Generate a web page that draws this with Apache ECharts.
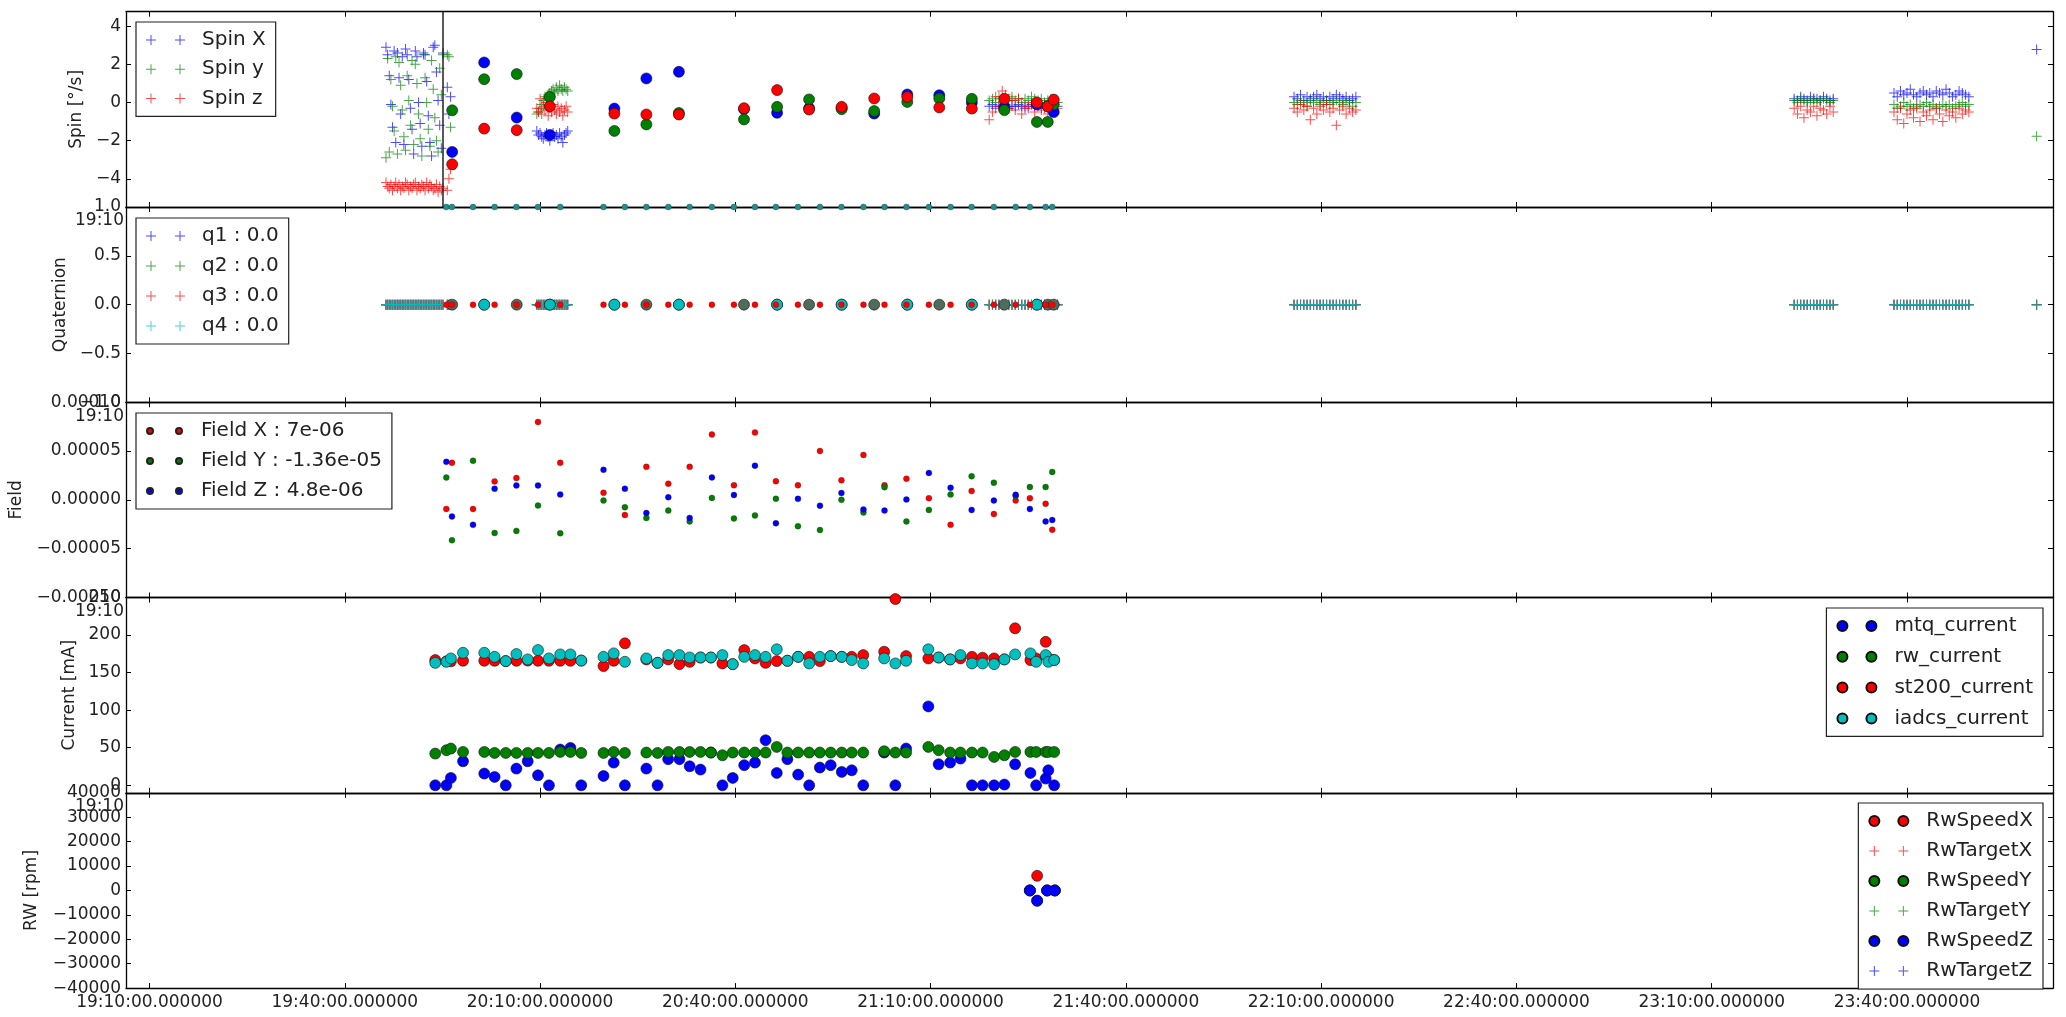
<!DOCTYPE html>
<html><head><meta charset="utf-8">
<script src="https://cdn.jsdelivr.net/npm/echarts@6/dist/echarts.min.js"></script>
<style>html,body{margin:0;padding:0;background:#fff;}#c{width:2066px;height:1017px;}</style>
</head><body><div id="c"></div>
<script>
// ================= DATA =================
const xTickLabels = ["19:10","19:40","20:10","20:40","21:10","21:40","22:10","22:40","23:10","23:40"];
const spinTicks = [-4,-2,0,2,4];
const quatTicks = [-1,-0.5,0,0.5,1];
const fieldTicks = [-0.0001,-0.00005,0,0.00005,0.0001];
const currentTicks = [0,50,100,150,200,250];
const rwTicks = [-40000,-30000,-20000,-10000,0,10000,20000,30000,40000];

// high-rate samples ("+" markers)
const crossTimes = [
 "19:46:20","19:46:35","19:46:50","19:47:05","19:47:20","19:47:35","19:47:50","19:48:05","19:48:20","19:48:35",
 "19:48:50","19:49:05","19:49:20","19:49:35","19:49:50","19:50:05","19:50:20","19:50:35","19:50:50","19:51:05",
 "19:51:20","19:51:35","19:51:50","19:52:05","19:52:20","19:52:35","19:52:50","19:53:05","19:53:20","19:53:35",
 "19:53:50","19:54:05","19:54:20","19:54:35","19:54:50","19:55:05","19:55:45","19:56:00","19:56:15",
 "20:09:30","20:09:45","20:10:00","20:10:15","20:10:30","20:10:45","20:11:00","20:11:15","20:11:30","20:11:45",
 "20:12:00","20:12:15","20:12:30","20:12:45","20:13:00","20:13:15","20:13:30","20:13:45","20:14:00","20:14:15",
 "21:19:00","21:19:30","21:20:00","21:20:30","21:21:00","21:21:30","21:22:00","21:22:30","21:23:00","21:23:30",
 "21:24:00","21:24:30","21:25:00","21:25:30","21:26:00","21:26:30","21:27:00","21:27:30","21:28:00","21:28:30",
 "21:29:00","21:29:30",
 "22:05:50","22:06:20","22:06:50","22:07:20","22:07:50","22:08:20","22:08:50","22:09:20","22:09:50","22:10:20",
 "22:10:50","22:11:20","22:11:50","22:12:20","22:12:50","22:13:20","22:13:50","22:14:20","22:14:50","22:15:20",
 "23:22:40","23:23:10","23:23:40","23:24:10","23:24:40","23:25:10","23:25:40","23:26:10","23:26:40","23:27:10",
 "23:27:40","23:28:10","23:28:40",
 "23:38:00","23:38:30","23:39:00","23:39:30","23:40:00","23:40:30","23:41:00","23:41:30","23:42:00","23:42:30",
 "23:43:00","23:43:30","23:44:00","23:44:30","23:45:00","23:45:30","23:46:00","23:46:30","23:47:00","23:47:30",
 "23:48:00","23:48:30","23:49:00","23:49:30",
 "23:59:55"
];
const spinX = [
 2.9,2.5,1.4,-0.1,-1.3,2.7,-2.1,2.6,1.3,-0.6,2.4,-2.2,2.8,2.5,1.2,-0.3,-1.4,-2.7,2.7,2.4,
 0.0,-1.1,-2.3,2.6,2.5,1.1,-0.7,-2.1,-2.8,2.9,3.0,1.6,0.1,-1.2,-2.4,2.6,0.8,-0.6,0.3,
 -1.5,-1.7,-1.6,-1.8,-1.9,-1.7,-1.6,-1.8,-2.0,-1.7,-1.6,-1.8,-1.7,-1.9,-1.6,-1.8,-2.1,-1.7,-1.6,-1.5,
 -0.2,-0.1,-0.3,-0.2,-0.2,-0.1,-0.3,-0.2,-0.2,-0.1,-0.2,-0.3,-0.2,-0.1,-0.2,-0.2,-0.3,-0.1,-0.2,-0.2,-0.1,-0.2,
 0.3,0.2,0.4,0.1,0.3,0.2,0.3,0.4,0.2,0.3,0.1,0.3,0.2,0.4,0.3,0.2,0.3,0.1,0.2,0.3,
 0.2,0.1,0.3,0.2,0.1,0.3,0.2,0.2,0.1,0.3,0.2,0.1,0.2,
 0.5,0.3,0.6,0.4,0.5,0.7,0.4,0.3,0.5,0.6,0.4,0.5,0.3,0.6,0.5,0.4,0.7,0.5,0.3,0.4,0.6,0.5,0.4,0.3,
 2.78
];
const spinY = [
 -2.9,2.3,-2.6,1.2,-0.2,-1.5,2.4,-2.7,2.1,0.9,-0.4,-1.8,-2.5,1.4,0.1,-1.2,2.2,-2.2,2.0,1.0,
 -0.6,-1.9,-2.8,2.5,1.3,0.0,-1.4,-2.3,2.2,0.7,-0.8,-2.0,-2.6,1.8,0.4,2.5,2.5,2.4,-1.3,
 -0.6,-0.5,-0.3,-0.1,0.1,0.3,0.2,0.4,0.5,0.6,0.7,0.5,0.8,0.6,0.9,0.7,0.6,0.8,0.7,0.6,
 0.1,0.2,0.0,0.3,0.2,0.1,0.2,0.3,0.1,0.2,0.0,0.2,0.1,0.3,0.2,0.1,0.2,0.0,0.1,0.2,0.1,0.0,
 0.0,-0.1,0.1,0.0,-0.2,0.1,0.0,0.1,-0.1,0.0,0.1,-0.1,0.0,0.1,0.0,-0.1,0.1,0.0,-0.2,0.0,
 0.1,0.0,0.2,0.1,0.0,0.1,0.2,0.0,0.1,0.2,0.1,0.0,0.1,
 -0.1,-0.3,-0.2,0.0,-0.2,-0.1,-0.3,-0.2,-0.1,-0.2,0.0,-0.2,-0.1,-0.3,-0.2,-0.1,-0.2,-0.1,-0.3,-0.2,-0.1,0.0,-0.2,-0.1,
 -1.77
];
const spinZ = [
 -4.2,-4.4,-4.5,-4.3,-4.6,-4.4,-4.2,-4.5,-4.3,-4.6,-4.4,-4.5,-4.2,-4.3,-4.6,-4.4,-4.5,-4.3,-4.2,-4.6,
 -4.4,-4.5,-4.3,-4.4,-4.6,-4.2,-4.5,-4.3,-4.4,-4.6,-4.5,-4.3,-4.7,-4.4,-4.6,-4.5,-4.6,-4.0,-3.5,
 -0.3,-0.5,0.2,-0.6,-0.2,-0.4,0.0,-0.7,-0.3,-0.5,-0.1,-0.4,-0.6,-0.2,-0.5,-0.3,-0.7,-0.4,-0.2,-0.5,
 -0.9,-0.5,0.3,-0.2,0.6,0.4,-0.3,0.1,-0.4,0.2,-0.6,-0.2,-0.3,0.0,-0.5,-0.1,-0.4,-0.3,-0.6,-0.2,-0.4,-0.3,
 -0.3,-0.5,-0.1,-0.4,-0.2,-0.9,-0.3,-0.6,-0.2,-0.4,-0.1,-0.5,-0.3,-1.2,-0.4,-0.2,-0.6,-0.3,-0.5,-0.4,
 -0.3,-0.6,-0.2,-0.8,-0.4,-0.5,-0.2,-0.7,-0.3,-0.4,-0.6,-0.2,-0.5,
 -0.5,-0.9,-0.3,-1.1,-0.6,-0.4,-0.8,-0.3,-1.0,-0.5,-0.7,-0.4,-0.9,-0.3,-0.6,-1.0,-0.4,-0.7,-0.5,-0.8,-0.3,-0.6,-0.4,-0.5,
 null
];
const q1 = [
 0,0,0,0,0,0,0,0,0,0,0,0,0,0,0,0,0,0,0,0, 0,0,0,0,0,0,0,0,0,0,0,0,0,0,0,0,0,0,0,0,
 0,0,0,0,0,0,0,0,0,0,0,0,0,0,0,0,0,0,0,0, 0,0,0,0,0,0,0,0,0,0,0,0,0,0,0,0,0,0,0,0,
 0,0,0,0,0,0,0,0,0,0,0,0,0,0,0,0,0,0,0,0, 0,0,0,0,0,0,0,0,0,0,0,0,0,0,0,0,0,0,0,0,
 0,0,0,0,0,0,0,0,0,0,0,0,0,0,0,0,0,0,0
];
const q2 = [
 0,0,0,0,0,0,0,0,0,0,0,0,0,0,0,0,0,0,0,0, 0,0,0,0,0,0,0,0,0,0,0,0,0,0,0,0,0,0,0,0,
 0,0,0,0,0,0,0,0,0,0,0,0,0,0,0,0,0,0,0,0, 0,0,0,0,0,0,0,0,0,0,0,0,0,0,0,0,0,0,0,0,
 0,0,0,0,0,0,0,0,0,0,0,0,0,0,0,0,0,0,0,0, 0,0,0,0,0,0,0,0,0,0,0,0,0,0,0,0,0,0,0,0,
 0,0,0,0,0,0,0,0,0,0,0,0,0,0,0,0,0,0,0
];
const q3 = [
 0,0,0,0,0,0,0,0,0,0,0,0,0,0,0,0,0,0,0,0, 0,0,0,0,0,0,0,0,0,0,0,0,0,0,0,0,0,0,0,0,
 0,0,0,0,0,0,0,0,0,0,0,0,0,0,0,0,0,0,0,0, 0,0,0,0,0,0,0,0,0,0,0,0,0,0,0,0,0,0,0,0,
 0,0,0,0,0,0,0,0,0,0,0,0,0,0,0,0,0,0,0,0, 0,0,0,0,0,0,0,0,0,0,0,0,0,0,0,0,0,0,0,0,
 0,0,0,0,0,0,0,0,0,0,0,0,0,0,0,0,0,0,0
];
const q4 = [
 0,0,0,0,0,0,0,0,0,0,0,0,0,0,0,0,0,0,0,0, 0,0,0,0,0,0,0,0,0,0,0,0,0,0,0,0,0,0,0,0,
 0,0,0,0,0,0,0,0,0,0,0,0,0,0,0,0,0,0,0,0, 0,0,0,0,0,0,0,0,0,0,0,0,0,0,0,0,0,0,0,0,
 0,0,0,0,0,0,0,0,0,0,0,0,0,0,0,0,0,0,0,0, 0,0,0,0,0,0,0,0,0,0,0,0,0,0,0,0,0,0,0,0,
 0,0,0,0,0,0,0,0,0,0,0,0,0,0,0,0,0,0,0
];
const markerTime = "19:55:05";

// 5-minute samples ("o" markers)
const circleTimes = ["19:56:30","20:01:25","20:06:25","20:11:30","20:21:25","20:26:20","20:31:20","20:41:20","20:46:25","20:51:20",
 "20:56:20","21:01:20","21:06:25","21:11:20","21:16:20","21:21:20","21:26:20","21:28:00","21:28:55"];
const spinXo = [-2.59,2.10,-0.79,-1.70,-0.32,1.26,1.61,-0.35,-0.54,-0.30,-0.28,-0.58,0.42,0.38,0.00,-0.25,-0.10,-0.20,-0.50];
const spinYo = [-0.41,1.22,1.49,0.29,-1.49,-1.15,-0.55,-0.89,-0.23,0.16,-0.35,-0.45,0.03,0.21,0.19,-0.40,-1.02,-1.02,-0.10];
const spinZo = [-3.24,-1.37,-1.45,-0.20,-0.58,-0.63,-0.63,-0.30,0.65,-0.37,-0.23,0.21,0.29,-0.26,-0.32,0.19,0.00,-0.20,0.15];
const qCircle = [0,0,0,0,0,0,0,0,0,0,0,0,0,0,0,0,0,0,0];
const q4CircleTimes = ["20:01:25","20:11:30","20:21:25","20:31:20","20:46:25","20:56:20","21:06:25","21:16:20","21:26:20"];
const q4Circle = [0,0,0,0,0,0,0,0,0];

// ~200 s samples ("." markers)
const dotTimes = ["19:55:36","19:56:28","19:59:42","20:03:01","20:06:22","20:09:41","20:13:06","20:19:45","20:23:02","20:26:20",
 "20:29:42","20:32:59","20:36:24","20:39:47","20:43:01","20:46:14","20:49:37","20:53:00","20:56:18","20:59:41",
 "21:02:55","21:06:17","21:09:44","21:13:04","21:16:18","21:19:43","21:23:04","21:25:15","21:27:40","21:28:41"];
const fieldX = [-0.93e-5,3.79e-5,-0.93e-5,1.89e-5,2.24e-5,7.97e-5,3.79e-5,0.72e-5,-1.55e-5,3.38e-5,
 1.66e-5,3.38e-5,6.7e-5,1.5e-5,6.9e-5,1.9e-5,1.5e-5,5.0e-5,2.0e-5,4.6e-5,
 1.5e-5,2.17e-5,0.17e-5,-2.56e-5,0.9e-5,-1.45e-5,-0.07e-5,0.17e-5,-0.41e-5,-3.07e-5];
const fieldY = [2.28e-5,-4.14e-5,4.0e-5,-3.39e-5,-3.18e-5,-0.59e-5,-3.42e-5,-0.07e-5,-0.76e-5,-1.86e-5,
 -1.1e-5,-2.21e-5,0.2e-5,-1.9e-5,-1.6e-5,0.1e-5,-2.7e-5,-3.1e-5,0.0e-5,-1.3e-5,
 1.3e-5,-2.21e-5,-1.03e-5,0.55e-5,2.41e-5,1.76e-5,0.4e-5,1.31e-5,1.31e-5,2.86e-5];
const fieldZ = [3.89e-5,-1.7e-5,-2.56e-5,1.14e-5,1.48e-5,1.48e-5,0.55e-5,3.07e-5,1.14e-5,-1.35e-5,
 0.27e-5,-1.86e-5,2.3e-5,0.5e-5,3.5e-5,-2.4e-5,0.1e-5,-0.6e-5,0.7e-5,-1.0e-5,
 -1.1e-5,0.03e-5,2.76e-5,1.24e-5,-1.03e-5,-0.07e-5,0.52e-5,-0.93e-5,-2.21e-5,-2.07e-5];
const qDot = [0,0,0,0,0,0,0,0,0,0,0,0,0,0,0,0,0,0,0,0,0,0,0,0,0,0,0,0,0,0];
const q4Dot = [1,1,1,1,1,1,1,1,1,1,1,1,1,1,1,1,1,1,1,1,1,1,1,1,1,1,1,1,1,1];

// current samples
const currentTimes = ["19:53:54","19:55:37","19:56:18","19:58:10","20:01:26","20:03:01","20:04:44","20:06:22","20:08:06","20:09:41",
 "20:11:22","20:13:06","20:14:40","20:16:20","20:19:45","20:21:19","20:23:02","20:26:20","20:28:03","20:29:41",
 "20:31:25","20:32:59","20:34:39","20:36:15","20:38:01","20:39:36","20:41:22","20:43:01","20:44:39","20:46:22",
 "20:48:00","20:49:39","20:51:21","20:52:59","20:54:39","20:56:21","20:57:53","20:59:39","21:02:52","21:04:35",
 "21:06:14","21:09:39","21:11:14","21:13:00","21:14:35","21:16:21","21:17:59","21:19:45","21:21:20","21:22:59",
 "21:25:20","21:26:13","21:27:41","21:28:05","21:28:59"];
const mtqCurrent = [0,0,9.8,32,15.6,11.1,0,22.2,32,13.3, 0,47.6,49.8,0,12.4,30.2,0,22.2,0,34.7,
 34.7,25.3,20.9,43.6,0,9.8,26.7,30.2,60,16.4, 34.7,14.2,0,23.6,26.7,17.8,20,0,43.6,0,
 48.9,105,28,30.2,35.6,0,0,0,1,28, 16.4,0,8.9,20,0];
const rwCurrent = [42.2,46.7,48.9,44.4,44.4,43.1,43.1,43.1,43.1,43.1, 43.1,44.4,44.4,43.1,43.1,44.4,43.1,43.6,43.1,44.4,
 44.4,44.4,44.4,43.6,40,43.6,43.6,43.6,43.6,51.1, 43.6,43.6,43.6,43.6,43.6,43.6,43.6,43.6,45.3,43.6,
 43.6,51.1,46.7,43.6,43.6,43.6,43.6,37.8,40,44.4, 44.4,44.4,44.4,44.4,44.4];
const st200Current = [166.7,165,165,165.8,165.8,165.8,165.3,165.8,166,165.8, 165.8,165.8,165.8,166,158.7,165.8,189,167.6,163,167.6,
 161.3,164.4,170,170,162.2,161.3,180,168.9,163,165.3, 165.8,171,171,165.3,172,171,171,173.3,177.8,248,
 172,168.9,170,167.6,168.9,171,169.8,168.9,167.6,209, 166.7,168.9,191,168.9,166.7];
const iadcsCurrent = [163,164.4,168.9,176.4,176.4,171,165.3,174.7,167.6,180, 168.9,174.2,174.2,166,171,175.6,164.4,168.9,163,173.3,
 173.3,170.2,170.2,170.2,173.3,161.3,171,173.3,171,181, 165.8,171,162.2,171,172,171,166.7,162.2,168.9,162.2,
 165.8,181,170.2,167.6,173.3,162.2,162.2,161.3,167.6,174.2, 175.6,164.4,173.3,164.4,166.7];

// reaction wheels
const rwTimes = ["21:25:15","21:26:22","21:27:54","21:29:05"];
const rwSpeedX = [0,6000,0,0];
const rwTargetX = [0,null,0,0];
const rwSpeedY = [0,-4200,0,0];
const rwTargetY = [0,null,0,0];
const rwSpeedZ = [0,-4200,0,0];
const rwTargetZ = [0,null,0,0];

// ================= CHART =================
function tm(s){ const p = s.split(':').map(Number); return p[0]*60 + p[1] + (p[2]||0)/60; }
function pts(times, vals){ const o=[]; for(let i=0;i<times.length;i++){ if(vals[i]!==null && vals[i]!==undefined) o.push([tm(times[i]), vals[i]]); } return o; }
const minus = s => String(s).replace('-', '\u2212');
const pad = n => (n<10?'0':'')+n;

const FONT = 'DejaVu Sans';
const TXT = '#222';
const BLUE='#0000ff', GREEN='#008000', RED='#ff0000', CYAN='#00bfbf';
const PLUS = 'path://M4.5,0H5.5V4.5H10V5.5H5.5V10H4.5V5.5H0V4.5H4.5Z';
const PLUS2 = 'path://M4.5,0H5.5V4.5H10V5.5H5.5V10H4.5V5.5H0V4.5H4.5Z M33.5,0H34.5V4.5H39V5.5H34.5V10H33.5V5.5H29V4.5H33.5Z';
const CIRC2 = 'path://M0,5A5,5,0,1,0,10,5A5,5,0,1,0,0,5Z M29,5A5,5,0,1,0,39,5A5,5,0,1,0,29,5Z';
const DOT2 = 'path://M0,3A3,3,0,1,0,6,3A3,3,0,1,0,0,3Z M29,3A3,3,0,1,0,35,3A3,3,0,1,0,29,3Z';

const XMIN = 1146.39, XMAX = 1442.43;
const xTickVals = xTickLabels.map(l => tm(l));
const TOPS = [11.7, 207.0, 402.2, 597.5, 792.8];
const H = 195.3;

const yCfg = [
  {min:-5.48, max:4.76, ticks:spinTicks, fmt:v=>minus(v), name:'Spin [°/s]', gap:41},
  {min:-1, max:1, ticks:quatTicks, fmt:v=>minus(v.toFixed(1)), name:'Quaternion', gap:57},
  {min:-0.0001, max:0.0001, ticks:fieldTicks, fmt:v=>minus(v.toFixed(5)), name:'Field', gap:101},
  {min:-10, max:250, ticks:currentTicks, fmt:v=>minus(v), name:'Current [mA]', gap:48},
  {min:-40000, max:40000, ticks:rwTicks, fmt:v=>minus(v), name:'RW [rpm]', gap:86}
];

const axLine = {onZero:false, lineStyle:{color:'#000', width:1.3}};
const grids=[], xAxes=[], yAxes=[];
TOPS.forEach((t,g)=>{
  grids.push({left:126, width:1927, top:t, height:H, containLabel:false});
  xAxes.push({gridIndex:g, type:'value', min:XMIN, max:XMAX, position:'bottom', axisLine:axLine,
    axisTick:{inside:true, length:5, customValues:xTickVals, lineStyle:{color:'#000', width:1}},
    axisLabel:{show:g===4, customValues:xTickVals, margin:6, fontSize:17, fontFamily:FONT, color:TXT,
      formatter:v=>{const h=Math.floor(v/60+1e-6), m=Math.round(v-h*60); return pad(h)+':'+pad(m)+':00.000000';}},
    splitLine:{show:false}});
  xAxes.push({gridIndex:g, type:'value', min:XMIN, max:XMAX, position:'top', axisLine:axLine,
    axisTick:{inside:true, length:5, customValues:xTickVals, lineStyle:{color:'#000', width:1}},
    axisLabel:{show:false}, splitLine:{show:false}});
  const c = yCfg[g];
  yAxes.push({gridIndex:g, type:'value', min:c.min, max:c.max, position:'left', name:c.name, nameLocation:'middle',
    nameGap:c.gap, nameRotate:90, nameTextStyle:{fontSize:17, fontFamily:FONT, color:TXT},
    axisLine:axLine, axisTick:{inside:true, length:5, customValues:c.ticks, lineStyle:{color:'#000', width:1}},
    axisLabel:{customValues:c.ticks, formatter:c.fmt, margin:5, fontSize:17, fontFamily:FONT, color:TXT, showMinLabel:true, showMaxLabel:true},
    splitLine:{show:false}});
  yAxes.push({gridIndex:g, type:'value', min:c.min, max:c.max, position:'right',
    axisLine:axLine, axisTick:{inside:true, length:5, customValues:c.ticks, lineStyle:{color:'#000', width:1}},
    axisLabel:{show:false}, splitLine:{show:false}});
});

function base(name, g, data){ return {type:'scatter', name, xAxisIndex:g*2, yAxisIndex:g*2, data, silent:true, animation:false}; }
function cross(name, g, times, vals, color){ return Object.assign(base(name,g,pts(times,vals)), {symbol:PLUS, symbolSize:10, itemStyle:{color, opacity:0.7}}); }
function circ(name, g, times, vals, color){ return Object.assign(base(name,g,pts(times,vals)), {symbol:'circle', symbolSize:11, itemStyle:{color, opacity:1, borderColor:'#111', borderWidth:0.6}}); }
function dot(name, g, times, vals, color, size){ return Object.assign(base(name,g,pts(times,vals)), {symbol:'circle', symbolSize:size||6, itemStyle:{color, opacity:1, borderColor:'#222', borderWidth:0.3}}); }

const series = [
  cross('Spin X',0,crossTimes,spinX,BLUE),
  cross('Spin y',0,crossTimes,spinY,GREEN),
  cross('Spin z',0,crossTimes,spinZ,RED),
  circ('spinXo',0,circleTimes,spinXo,BLUE),
  circ('spinYo',0,circleTimes,spinYo,GREEN),
  Object.assign(circ('spinZo',0,circleTimes,spinZo,RED), {markLine:{silent:true, symbol:['none','none'], label:{show:false},
     lineStyle:{color:'#222', width:1.5, type:'solid'}, data:[{xAxis:tm(markerTime)}], animation:false}}),

  cross('q1 : 0.0',1,crossTimes,q1,BLUE),
  cross('q2 : 0.0',1,crossTimes,q2,GREEN),
  cross('q3 : 0.0',1,crossTimes,q3,RED),
  cross('q4 : 0.0',1,crossTimes,q4,CYAN),
  circ('qo',1,circleTimes,qCircle,'#4e6b5c'),
  circ('q4o',1,q4CircleTimes,q4Circle,CYAN),
  dot('qdot',1,dotTimes,qDot,RED),
  dot('q4dot',1,dotTimes,q4Dot,'#1f8f8f',6),

  dot('Field X : 7e-06',2,dotTimes,fieldX,RED),
  dot('Field Y : -1.36e-05',2,dotTimes,fieldY,GREEN),
  dot('Field Z : 4.8e-06',2,dotTimes,fieldZ,BLUE),

  circ('mtq_current',3,currentTimes,mtqCurrent,BLUE),
  circ('rw_current',3,currentTimes,rwCurrent,GREEN),
  circ('st200_current',3,currentTimes,st200Current,RED),
  circ('iadcs_current',3,currentTimes,iadcsCurrent,CYAN),

  circ('RwSpeedX',4,rwTimes,rwSpeedX,RED),
  cross('RwTargetX',4,rwTimes,rwTargetX,RED),
  circ('RwSpeedY',4,rwTimes,rwSpeedY,GREEN),
  cross('RwTargetY',4,rwTimes,rwTargetY,GREEN),
  circ('RwSpeedZ',4,rwTimes,rwSpeedZ,BLUE),
  cross('RwTargetZ',4,rwTimes,rwTargetZ,BLUE)
];

function legend(pos, names, icon, iw, ih, gap, textPad){
  return Object.assign({orient:'vertical', align:'left', selectedMode:false,
    data:names.map(n=>({name:n, icon})), itemWidth:iw, itemHeight:ih, itemGap:gap,
    padding:[8,10,8,10], borderColor:'#222', borderWidth:1.2, backgroundColor:'#fff',
    textStyle:{fontSize:20, fontFamily:FONT, color:TXT, lineHeight:20, padding:[0,0,0,textPad]}}, pos);
}
const legends = [
  legend({left:136, top:22}, ['Spin X','Spin y','Spin z'], PLUS2, 39, 10, 9.2, 12),
  legend({left:136, top:218}, ['q1 : 0.0','q2 : 0.0','q3 : 0.0','q4 : 0.0'], PLUS2, 39, 10, 10, 12),
  legend({left:136, top:413}, ['Field X : 7e-06','Field Y : -1.36e-05','Field Z : 4.8e-06'], DOT2, 35, 6, 10, 14),
  legend({right:23, top:608}, ['mtq_current','rw_current','st200_current','iadcs_current'], CIRC2, 39, 10, 10.8, 13),
  {...legend({right:23, top:803}, ['RwSpeedX','RwTargetX','RwSpeedY','RwTargetY','RwSpeedZ','RwTargetZ'], CIRC2, 39, 10, 10, 13),
    data:[{name:'RwSpeedX',icon:CIRC2},{name:'RwTargetX',icon:PLUS2},{name:'RwSpeedY',icon:CIRC2},{name:'RwTargetY',icon:PLUS2},{name:'RwSpeedZ',icon:CIRC2},{name:'RwTargetZ',icon:PLUS2}]}
];

const graphic = TOPS.slice(1).map(t => ({type:'text', x:124, y:t+14, silent:true,
  style:{text:xTickLabels[0], align:'right', verticalAlign:'middle', fontSize:17, fontFamily:FONT, fill:TXT}}));

const chart = echarts.init(document.getElementById('c'), null, {renderer:'canvas'});
chart.setOption({
  backgroundColor:'#fff', animation:false, textStyle:{fontFamily:FONT},
  grid:grids, xAxis:xAxes, yAxis:yAxes, legend:legends, series, graphic
});
</script></body></html>
